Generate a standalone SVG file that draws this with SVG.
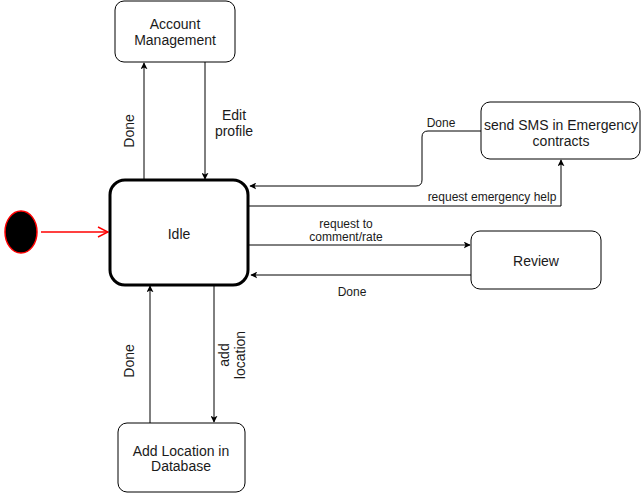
<svg xmlns="http://www.w3.org/2000/svg" width="642" height="493" viewBox="0 0 642 493">
<defs>
<style>
.node{fill:#fff;stroke:#000;stroke-width:1}
.t{font-family:"Liberation Sans",Arial,sans-serif;font-size:14px;fill:#1a1a1a;text-anchor:middle}
.lbl{font-family:"Liberation Sans",Arial,sans-serif;font-size:12px;fill:#1a1a1a;text-anchor:middle}
.lb{font-family:"Liberation Sans",Arial,sans-serif;font-size:14px;fill:#1a1a1a;text-anchor:middle}
.e{fill:none;stroke:#000;stroke-width:1}
</style>
<marker id="arr" viewBox="0 0 10 10" refX="9" refY="5" markerWidth="7" markerHeight="7" orient="auto" markerUnits="userSpaceOnUse">
<path d="M0,0 L10,5 L0,10 L2.5,5 Z" fill="#000"/>
</marker>
<marker id="arrRed" viewBox="0 0 12 12" refX="11" refY="6" markerWidth="12" markerHeight="12" orient="auto" markerUnits="userSpaceOnUse">
<path d="M1,1 L11,6 L1,11" fill="none" stroke="#f00" stroke-width="1.5"/>
</marker>
</defs>
<rect width="642" height="493" fill="#fff"/>
<g id="connectors">
<line x1="41" y1="232" x2="108" y2="232" stroke="#f00" stroke-width="1.5" marker-end="url(#arrRed)"/>
<line class="e" x1="144" y1="180" x2="144" y2="63" marker-end="url(#arr)"/>
<line class="e" x1="205" y1="62" x2="205" y2="179" marker-end="url(#arr)"/>
<path class="e" d="M481,131 L428,131 Q422,131 422,137 L422,180 Q422,186 416,186 L250,186" marker-end="url(#arr)"/>
<path class="e" d="M249,206 L561,206 L561,160" marker-end="url(#arr)"/>
<line class="e" x1="249" y1="245" x2="470" y2="245" marker-end="url(#arr)"/>
<line class="e" x1="471" y1="275" x2="251" y2="275" marker-end="url(#arr)"/>
<line class="e" x1="150" y1="423" x2="150" y2="286" marker-end="url(#arr)"/>
<line class="e" x1="214" y1="285" x2="214" y2="422" marker-end="url(#arr)"/>
<text class="lb" transform="translate(134,131) rotate(-90)">Done</text>
<text class="lb" x="234" y="120">Edit</text>
<text class="lb" x="234" y="136">profile</text>
<text class="lbl" x="441" y="127">Done</text>
<text class="lbl" x="492" y="201">request emergency help</text>
<text class="lbl" x="346" y="228">request to</text>
<text class="lbl" x="346" y="241">comment/rate</text>
<text class="lbl" x="352" y="296">Done</text>
<text class="lb" transform="translate(134,361) rotate(-90)">Done</text>
<text class="lb" transform="translate(229,355) rotate(-90)">add</text>
<text class="lb" transform="translate(245,355) rotate(-90)">location</text>
</g>
<g id="start">
<ellipse cx="21" cy="232" rx="16" ry="21" fill="#000" stroke="#f00" stroke-width="1.5"/>
</g>
<g id="idle">
<rect x="110" y="180" width="138" height="105" rx="15" fill="#fff" stroke="#000" stroke-width="3"/>
<text class="t" x="179" y="239">Idle</text>
</g>
<g id="account">
<rect class="node" x="115" y="1" width="120" height="61" rx="9"/>
<text class="t" x="175" y="29">Account</text>
<text class="t" x="175" y="45">Management</text>
</g>
<g id="sms">
<rect class="node" x="481" y="102" width="159" height="57" rx="9"/>
<text class="t" x="561" y="130">send SMS in Emergency</text>
<text class="t" x="561" y="146">contracts</text>
</g>
<g id="review">
<rect class="node" x="471" y="231" width="130" height="58" rx="9"/>
<text class="t" x="536" y="266">Review</text>
</g>
<g id="addloc">
<rect class="node" x="118" y="423" width="127" height="69" rx="9"/>
<text class="t" x="181" y="456">Add Location in</text>
<text class="t" x="181" y="471">Database</text>
</g>
</svg>
